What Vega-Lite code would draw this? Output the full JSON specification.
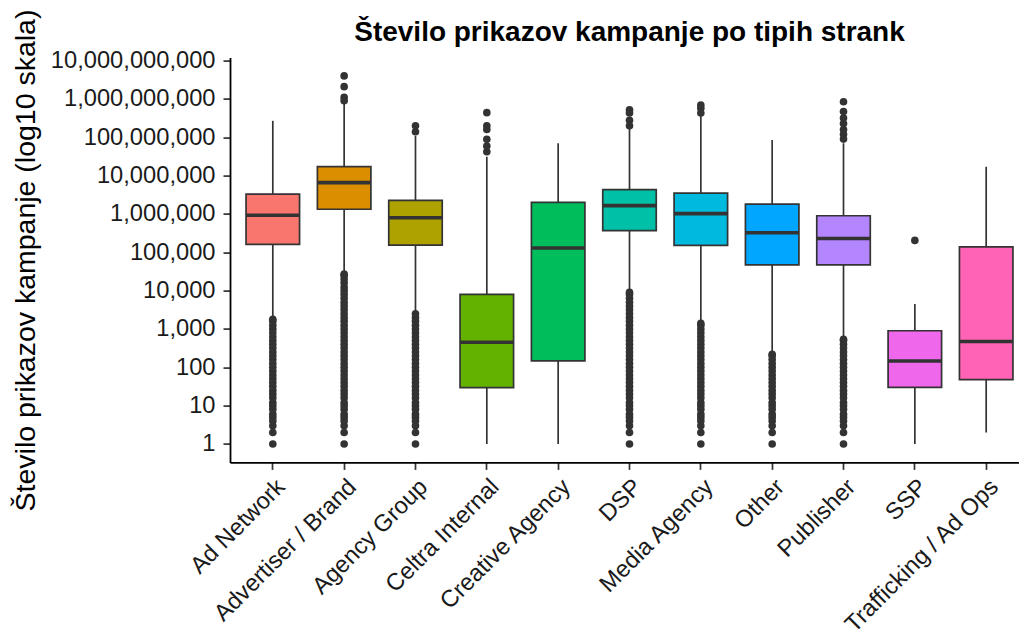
{
  "$schema": "https://vega.github.io/schema/vega-lite/v6.json",
  "autosize": {"type": "none"},
  "padding": {"left": 230, "top": 57.6, "right": 0, "bottom": 169},
  "width": 789,
  "height": 404.8,
  "background": "white",
  "title": {"text": "Število prikazov kampanje po tipih strank", "font": "Liberation Sans", "fontSize": 28, "fontWeight": "bold", "color": "black", "anchor": "middle", "frame": "group", "offset": 14, "dy": 52, "dx": 5},
  "datasets": {
    "boxes": [
      {"tip": "Ad Network", "lo": 2000, "q1": 162000, "med": 930000, "q3": 3300000, "hi": 270000000},
      {"tip": "Advertiser / Brand", "lo": 28000, "q1": 1330000, "med": 6600000, "q3": 17200000, "hi": 800000000},
      {"tip": "Agency Group", "lo": 2600, "q1": 155000, "med": 800000, "q3": 2280000, "hi": 110000000},
      {"tip": "Celtra Internal", "lo": 1, "q1": 29.5, "med": 450, "q3": 8000, "hi": 31000000},
      {"tip": "Creative Agency", "lo": 1, "q1": 148, "med": 130000, "q3": 2000000, "hi": 70000000},
      {"tip": "DSP", "lo": 9100, "q1": 370000, "med": 1650000, "q3": 4300000, "hi": 175000000},
      {"tip": "Media Agency", "lo": 1400, "q1": 152000, "med": 1020000, "q3": 3500000, "hi": 360000000},
      {"tip": "Other", "lo": 230, "q1": 47000, "med": 325000, "q3": 1800000, "hi": 85000000},
      {"tip": "Publisher", "lo": 550, "q1": 47000, "med": 230000, "q3": 900000, "hi": 70000000},
      {"tip": "SSP", "lo": 1, "q1": 30, "med": 146, "q3": 900, "hi": 4500},
      {"tip": "Trafficking / Ad Ops", "lo": 2, "q1": 48, "med": 470, "q3": 138000, "hi": 17000000}
    ],
    "outliers": [
      {"tip": "Ad Network", "v": 1800}, {"tip": "Ad Network", "v": 1600}, {"tip": "Ad Network", "v": 1250}, {"tip": "Ad Network", "v": 1000}, {"tip": "Ad Network", "v": 800}, {"tip": "Ad Network", "v": 630}, {"tip": "Ad Network", "v": 500}, {"tip": "Ad Network", "v": 400}, {"tip": "Ad Network", "v": 320}, {"tip": "Ad Network", "v": 250}, {"tip": "Ad Network", "v": 200}, {"tip": "Ad Network", "v": 160}, {"tip": "Ad Network", "v": 125}, {"tip": "Ad Network", "v": 100}, {"tip": "Ad Network", "v": 80}, {"tip": "Ad Network", "v": 63}, {"tip": "Ad Network", "v": 50}, {"tip": "Ad Network", "v": 40}, {"tip": "Ad Network", "v": 32}, {"tip": "Ad Network", "v": 25}, {"tip": "Ad Network", "v": 20}, {"tip": "Ad Network", "v": 16}, {"tip": "Ad Network", "v": 12}, {"tip": "Ad Network", "v": 10}, {"tip": "Ad Network", "v": 8}, {"tip": "Ad Network", "v": 6}, {"tip": "Ad Network", "v": 5}, {"tip": "Ad Network", "v": 4}, {"tip": "Ad Network", "v": 3}, {"tip": "Ad Network", "v": 2}, {"tip": "Ad Network", "v": 1},
      {"tip": "Advertiser / Brand", "v": 4000000000}, {"tip": "Advertiser / Brand", "v": 2100000000}, {"tip": "Advertiser / Brand", "v": 1100000000}, {"tip": "Advertiser / Brand", "v": 900000000},
      {"tip": "Advertiser / Brand", "v": 27000}, {"tip": "Advertiser / Brand", "v": 25000}, {"tip": "Advertiser / Brand", "v": 20000}, {"tip": "Advertiser / Brand", "v": 16000}, {"tip": "Advertiser / Brand", "v": 12500}, {"tip": "Advertiser / Brand", "v": 10000}, {"tip": "Advertiser / Brand", "v": 8000}, {"tip": "Advertiser / Brand", "v": 6300}, {"tip": "Advertiser / Brand", "v": 5000}, {"tip": "Advertiser / Brand", "v": 4000}, {"tip": "Advertiser / Brand", "v": 3200}, {"tip": "Advertiser / Brand", "v": 2500}, {"tip": "Advertiser / Brand", "v": 2000}, {"tip": "Advertiser / Brand", "v": 1600}, {"tip": "Advertiser / Brand", "v": 1250}, {"tip": "Advertiser / Brand", "v": 1000}, {"tip": "Advertiser / Brand", "v": 800}, {"tip": "Advertiser / Brand", "v": 630}, {"tip": "Advertiser / Brand", "v": 500}, {"tip": "Advertiser / Brand", "v": 400}, {"tip": "Advertiser / Brand", "v": 320}, {"tip": "Advertiser / Brand", "v": 250}, {"tip": "Advertiser / Brand", "v": 200}, {"tip": "Advertiser / Brand", "v": 160}, {"tip": "Advertiser / Brand", "v": 125}, {"tip": "Advertiser / Brand", "v": 100}, {"tip": "Advertiser / Brand", "v": 80}, {"tip": "Advertiser / Brand", "v": 63}, {"tip": "Advertiser / Brand", "v": 50}, {"tip": "Advertiser / Brand", "v": 40}, {"tip": "Advertiser / Brand", "v": 32}, {"tip": "Advertiser / Brand", "v": 25}, {"tip": "Advertiser / Brand", "v": 20}, {"tip": "Advertiser / Brand", "v": 16}, {"tip": "Advertiser / Brand", "v": 12}, {"tip": "Advertiser / Brand", "v": 10}, {"tip": "Advertiser / Brand", "v": 8}, {"tip": "Advertiser / Brand", "v": 6}, {"tip": "Advertiser / Brand", "v": 5}, {"tip": "Advertiser / Brand", "v": 4}, {"tip": "Advertiser / Brand", "v": 3}, {"tip": "Advertiser / Brand", "v": 2}, {"tip": "Advertiser / Brand", "v": 1},
      {"tip": "Agency Group", "v": 200000000}, {"tip": "Agency Group", "v": 140000000},
      {"tip": "Agency Group", "v": 2500}, {"tip": "Agency Group", "v": 2000}, {"tip": "Agency Group", "v": 1600}, {"tip": "Agency Group", "v": 1250}, {"tip": "Agency Group", "v": 1000}, {"tip": "Agency Group", "v": 800}, {"tip": "Agency Group", "v": 630}, {"tip": "Agency Group", "v": 500}, {"tip": "Agency Group", "v": 400}, {"tip": "Agency Group", "v": 320}, {"tip": "Agency Group", "v": 250}, {"tip": "Agency Group", "v": 200}, {"tip": "Agency Group", "v": 160}, {"tip": "Agency Group", "v": 125}, {"tip": "Agency Group", "v": 100}, {"tip": "Agency Group", "v": 80}, {"tip": "Agency Group", "v": 63}, {"tip": "Agency Group", "v": 50}, {"tip": "Agency Group", "v": 40}, {"tip": "Agency Group", "v": 32}, {"tip": "Agency Group", "v": 25}, {"tip": "Agency Group", "v": 20}, {"tip": "Agency Group", "v": 16}, {"tip": "Agency Group", "v": 12}, {"tip": "Agency Group", "v": 10}, {"tip": "Agency Group", "v": 8}, {"tip": "Agency Group", "v": 6}, {"tip": "Agency Group", "v": 5}, {"tip": "Agency Group", "v": 4}, {"tip": "Agency Group", "v": 3}, {"tip": "Agency Group", "v": 2}, {"tip": "Agency Group", "v": 1},
      {"tip": "Celtra Internal", "v": 440000000}, {"tip": "Celtra Internal", "v": 200000000}, {"tip": "Celtra Internal", "v": 160000000}, {"tip": "Celtra Internal", "v": 89000000}, {"tip": "Celtra Internal", "v": 59000000}, {"tip": "Celtra Internal", "v": 42000000},
      {"tip": "DSP", "v": 520000000}, {"tip": "DSP", "v": 430000000}, {"tip": "DSP", "v": 280000000}, {"tip": "DSP", "v": 200000000},
      {"tip": "DSP", "v": 9000}, {"tip": "DSP", "v": 8000}, {"tip": "DSP", "v": 6300}, {"tip": "DSP", "v": 5000}, {"tip": "DSP", "v": 4000}, {"tip": "DSP", "v": 3200}, {"tip": "DSP", "v": 2500}, {"tip": "DSP", "v": 2000}, {"tip": "DSP", "v": 1600}, {"tip": "DSP", "v": 1250}, {"tip": "DSP", "v": 1000}, {"tip": "DSP", "v": 800}, {"tip": "DSP", "v": 630}, {"tip": "DSP", "v": 500}, {"tip": "DSP", "v": 400}, {"tip": "DSP", "v": 320}, {"tip": "DSP", "v": 250}, {"tip": "DSP", "v": 200}, {"tip": "DSP", "v": 160}, {"tip": "DSP", "v": 125}, {"tip": "DSP", "v": 100}, {"tip": "DSP", "v": 80}, {"tip": "DSP", "v": 63}, {"tip": "DSP", "v": 50}, {"tip": "DSP", "v": 40}, {"tip": "DSP", "v": 32}, {"tip": "DSP", "v": 25}, {"tip": "DSP", "v": 20}, {"tip": "DSP", "v": 16}, {"tip": "DSP", "v": 12}, {"tip": "DSP", "v": 10}, {"tip": "DSP", "v": 8}, {"tip": "DSP", "v": 6}, {"tip": "DSP", "v": 5}, {"tip": "DSP", "v": 4}, {"tip": "DSP", "v": 3}, {"tip": "DSP", "v": 2}, {"tip": "DSP", "v": 1},
      {"tip": "Media Agency", "v": 700000000}, {"tip": "Media Agency", "v": 570000000}, {"tip": "Media Agency", "v": 430000000},
      {"tip": "Media Agency", "v": 1400}, {"tip": "Media Agency", "v": 1250}, {"tip": "Media Agency", "v": 1000}, {"tip": "Media Agency", "v": 800}, {"tip": "Media Agency", "v": 630}, {"tip": "Media Agency", "v": 500}, {"tip": "Media Agency", "v": 400}, {"tip": "Media Agency", "v": 320}, {"tip": "Media Agency", "v": 250}, {"tip": "Media Agency", "v": 200}, {"tip": "Media Agency", "v": 160}, {"tip": "Media Agency", "v": 125}, {"tip": "Media Agency", "v": 100}, {"tip": "Media Agency", "v": 80}, {"tip": "Media Agency", "v": 63}, {"tip": "Media Agency", "v": 50}, {"tip": "Media Agency", "v": 40}, {"tip": "Media Agency", "v": 32}, {"tip": "Media Agency", "v": 25}, {"tip": "Media Agency", "v": 20}, {"tip": "Media Agency", "v": 16}, {"tip": "Media Agency", "v": 12}, {"tip": "Media Agency", "v": 10}, {"tip": "Media Agency", "v": 8}, {"tip": "Media Agency", "v": 6}, {"tip": "Media Agency", "v": 5}, {"tip": "Media Agency", "v": 4}, {"tip": "Media Agency", "v": 3}, {"tip": "Media Agency", "v": 2}, {"tip": "Media Agency", "v": 1},
      {"tip": "Other", "v": 220}, {"tip": "Other", "v": 200}, {"tip": "Other", "v": 160}, {"tip": "Other", "v": 125}, {"tip": "Other", "v": 100}, {"tip": "Other", "v": 80}, {"tip": "Other", "v": 63}, {"tip": "Other", "v": 50}, {"tip": "Other", "v": 40}, {"tip": "Other", "v": 32}, {"tip": "Other", "v": 25}, {"tip": "Other", "v": 20}, {"tip": "Other", "v": 16}, {"tip": "Other", "v": 12}, {"tip": "Other", "v": 10}, {"tip": "Other", "v": 8}, {"tip": "Other", "v": 6}, {"tip": "Other", "v": 5}, {"tip": "Other", "v": 4}, {"tip": "Other", "v": 3}, {"tip": "Other", "v": 2}, {"tip": "Other", "v": 1},
      {"tip": "Publisher", "v": 850000000}, {"tip": "Publisher", "v": 470000000}, {"tip": "Publisher", "v": 320000000}, {"tip": "Publisher", "v": 230000000}, {"tip": "Publisher", "v": 160000000}, {"tip": "Publisher", "v": 120000000}, {"tip": "Publisher", "v": 90000000},
      {"tip": "Publisher", "v": 540}, {"tip": "Publisher", "v": 500}, {"tip": "Publisher", "v": 400}, {"tip": "Publisher", "v": 320}, {"tip": "Publisher", "v": 250}, {"tip": "Publisher", "v": 200}, {"tip": "Publisher", "v": 160}, {"tip": "Publisher", "v": 125}, {"tip": "Publisher", "v": 100}, {"tip": "Publisher", "v": 80}, {"tip": "Publisher", "v": 63}, {"tip": "Publisher", "v": 50}, {"tip": "Publisher", "v": 40}, {"tip": "Publisher", "v": 32}, {"tip": "Publisher", "v": 25}, {"tip": "Publisher", "v": 20}, {"tip": "Publisher", "v": 16}, {"tip": "Publisher", "v": 12}, {"tip": "Publisher", "v": 10}, {"tip": "Publisher", "v": 8}, {"tip": "Publisher", "v": 6}, {"tip": "Publisher", "v": 5}, {"tip": "Publisher", "v": 4}, {"tip": "Publisher", "v": 3}, {"tip": "Publisher", "v": 2}, {"tip": "Publisher", "v": 1},
      {"tip": "SSP", "v": 205000}
    ]
  },
  "encoding": {
    "x": {
      "field": "tip", "type": "nominal",
      "scale": {"type": "band", "domain": ["Ad Network", "Advertiser / Brand", "Agency Group", "Celtra Internal", "Creative Agency", "DSP", "Media Agency", "Other", "Publisher", "SSP", "Trafficking / Ad Ops"], "range": [0, 799], "paddingInner": 0.25, "paddingOuter": 0.225},
      "axis": {"title": null, "labelAngle": -45, "labelAlign": "right", "labelBaseline": "top", "labelFontSize": 23.7, "labelPadding": 5, "labelLimit": 0}
    }
  },
  "layer": [
    {
      "data": {"name": "boxes"},
      "mark": {"type": "rule", "color": "#333333", "strokeWidth": 1.7},
      "encoding": {
        "y": {"field": "lo", "type": "quantitative",
          "scale": {"type": "log", "domain": [0.3311, 12023000000], "nice": false, "zero": false},
          "axis": {"title": "Število prikazov kampanje (log10 skala)", "values": [1, 10, 100, 1000, 10000, 100000, 1000000, 10000000, 100000000, 1000000000, 10000000000], "format": ",.0f", "labelFontSize": 23.7, "labelPadding": 8, "titleFontSize": 28.5, "titlePadding": 10}},
        "y2": {"field": "hi"}
      }
    },
    {
      "data": {"name": "boxes"},
      "mark": {"type": "bar", "stroke": "#333333", "strokeWidth": 1.7, "opacity": 1},
      "encoding": {
        "y": {"field": "q1", "type": "quantitative"},
        "y2": {"field": "q3"},
        "color": {"field": "tip", "type": "nominal", "legend": null,
          "scale": {"domain": ["Ad Network", "Advertiser / Brand", "Agency Group", "Celtra Internal", "Creative Agency", "DSP", "Media Agency", "Other", "Publisher", "SSP", "Trafficking / Ad Ops"], "range": ["#F8766D", "#DB8E00", "#AEA200", "#64B200", "#00BD5C", "#00C1A7", "#00BADE", "#00A6FF", "#B385FF", "#EF67EB", "#FF63B6"]}}
      }
    },
    {
      "data": {"name": "boxes"},
      "mark": {"type": "tick", "color": "#333333", "thickness": 3.6, "size": 53.5, "opacity": 1},
      "encoding": {
        "y": {"field": "med", "type": "quantitative"}
      }
    },
    {
      "data": {"name": "outliers"},
      "mark": {"type": "point", "filled": true, "color": "#333333", "size": 58, "opacity": 1},
      "encoding": {
        "y": {"field": "v", "type": "quantitative"}
      }
    }
  ],
  "config": {
    "view": {"stroke": null},
    "font": "Liberation Sans",
    "axis": {"grid": false, "domainColor": "black", "domainWidth": 1.8, "tickColor": "#333333", "tickWidth": 1.7, "tickSize": 7, "labelColor": "#1a1a1a", "labelFont": "Liberation Sans", "titleFont": "Liberation Sans", "titleFontWeight": "normal", "titleColor": "black"}
  }
}
